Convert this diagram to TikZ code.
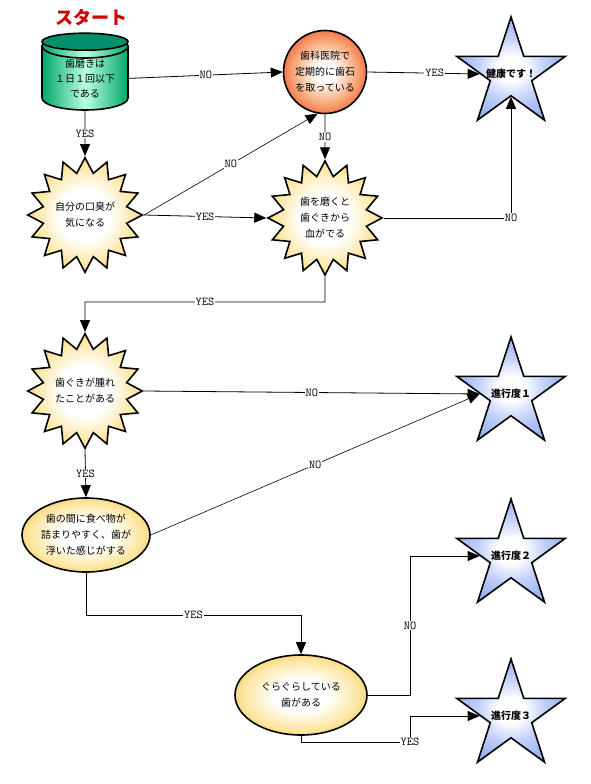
\documentclass[tikz,border=0pt]{standalone}
\usepackage{fontspec}
\setmainfont{Noto Sans CJK JP}
\usetikzlibrary{shapes, shapes.geometric, positioning, arrows.meta, calc}

\definecolor{cylEdge}{HTML}{00A868}
\definecolor{cylMid}{HTML}{B8FFE0}
\definecolor{cylTop}{HTML}{00906C}
\definecolor{redEdge}{HTML}{F05030}
\definecolor{redMid}{HTML}{F8A878}
\definecolor{burstEdge}{HTML}{F8C018}
\definecolor{burstMid}{HTML}{FCE6A0}
\definecolor{ovalEdge}{HTML}{F0B020}
\definecolor{starEdge}{HTML}{8CA8F0}
\definecolor{starMid}{HTML}{C4D2FA}
\definecolor{titleRed}{HTML}{D00000}

\pgfdeclareradialshading{ballshade}{\pgfpoint{0bp}{0bp}}{color(0bp)=(white); color(6bp)=(white); color(19bp)=(redMid); color(30bp)=(redEdge); color(50bp)=(redEdge)}
\pgfdeclareradialshading{burstshade}{\pgfpoint{0bp}{0bp}}{color(0bp)=(white); color(11bp)=(white); color(22bp)=(burstMid); color(33bp)=(burstEdge); color(50bp)=(burstEdge)}
\pgfdeclareradialshading{ovalshade}{\pgfpoint{0bp}{0bp}}{color(0bp)=(white); color(10bp)=(white); color(22bp)=(burstMid); color(34bp)=(ovalEdge); color(50bp)=(ovalEdge)}
\pgfdeclareradialshading{starshade}{\pgfpoint{0bp}{0bp}}{color(0bp)=(white); color(6bp)=(white); color(15bp)=(starMid); color(28bp)=(starEdge); color(50bp)=(starEdge)}

\begin{document}
\begin{tikzpicture}[x=1pt, y=-1pt, >={Triangle[length=12pt, width=10pt]}, font=\fontsize{10}{16}\selectfont, line width=0.8pt]
\tikzset{q/.style={draw, line width=1.6pt, align=center, inner sep=0pt}, burst/.style={q, star, star points=16, star point ratio=1.35, minimum size=114pt, shading=burstshade}, goal/.style={q, star, star points=5, star point ratio=2.618, minimum size=114pt, shading=starshade, font=\fontsize{10}{12}\selectfont\bfseries}, oval/.style={q, ellipse, shading=ovalshade}, lbl/.style={fill=white, inner sep=1pt, font=\ttfamily\fontsize{12}{12}\selectfont}}
\fill[white] (0,0) rectangle (590,784);
\node[font=\fontsize{18}{20}\selectfont\bfseries, text=titleRed] (T) at (91,18) {スタート};
\node[q, cylinder, shape border rotate=90, aspect=0.4, minimum width=86pt, minimum height=76pt, left color=cylEdge, right color=cylEdge, middle color=cylMid, anchor=shape center, font=\fontsize{10}{15}\selectfont] (S) at (85,72) {歯磨きは\\１日１回以下\\である};
\draw[line width=1.6pt, fill=cylTop] ([yshift=-8.5pt]S.north) ellipse (43 and 8.5);
\node[q, circle, minimum size=83pt, shading=ballshade] (D) at (325,72) {歯科医院で\\定期的に歯石\\を取っている};
\node[goal] (G0) at (511,74) {\makebox[0pt]{健康です！}};
\node[burst] (Q1) at (85,215) {自分の口臭が\\気になる};
\node[burst] (Q2) at (325,218) {歯を磨くと\\歯ぐきから\\血がでる};
\node[burst] (Q3) at (85,391) {歯ぐきが腫れ\\たことがある};
\node[goal] (G1) at (511,394) {\makebox[0pt]{進行度１}};
\node[oval, minimum width=128pt, minimum height=74pt] (Q4) at (86,535) {歯の間に食べ物が\\詰まりやすく、歯が\\浮いた感じがする};
\node[oval, minimum width=132pt, minimum height=80pt] (Q5) at (301,695) {ぐらぐらしている\\歯がある};
\node[goal] (G2) at (511,556) {\makebox[0pt]{進行度２}};
\node[goal] (G3) at (511,716) {\makebox[0pt]{進行度３}};
\coordinate (c1) at (325,302); \coordinate (c2) at (86,615); \coordinate (c3) at (410,695);
\coordinate (c4) at (301,742); \coordinate (c5) at (410,742);
\draw[->] (S.east) -- node[lbl]{NO} (D.west); \draw[->] (D.east) -- node[lbl, pos=0.6]{YES} (G0.west);
\draw[->] (S.south) -- node[lbl]{YES} (Q1.north);
\draw[->, line width=0.6pt] (Q1.east) -- node[lbl]{NO} (D.260);
\draw[->] (Q1.east) -- node[lbl]{YES} (Q2.west); \draw[->] (D.south) -- node[lbl]{NO} (Q2.north);
\draw[->] (Q2.east) -| node[lbl, pos=0.5]{NO} (G0.south);
\draw[->] (Q2.south) -- (c1) -| node[lbl, pos=0.25]{YES} (Q3.north);
\draw[->] (Q3.east) -- node[lbl]{NO} (G1.west); \draw[->] (Q3.south) -- node[lbl]{YES} (Q4.north);
\draw[->, line width=0.6pt] (Q4.east) -- node[lbl]{NO} (G1.west);
\draw[->] (Q4.south) -- (c2) -| node[lbl, pos=0.25]{YES} (Q5.north);
\draw[->] (Q5.east) -- (c3) |- node[lbl, pos=0.25]{NO} (G2.west);
\draw[->] (Q5.south) -- (c4) -- node[lbl, pos=1]{YES} (c5) |- (G3.west);
\end{tikzpicture}
\end{document}
